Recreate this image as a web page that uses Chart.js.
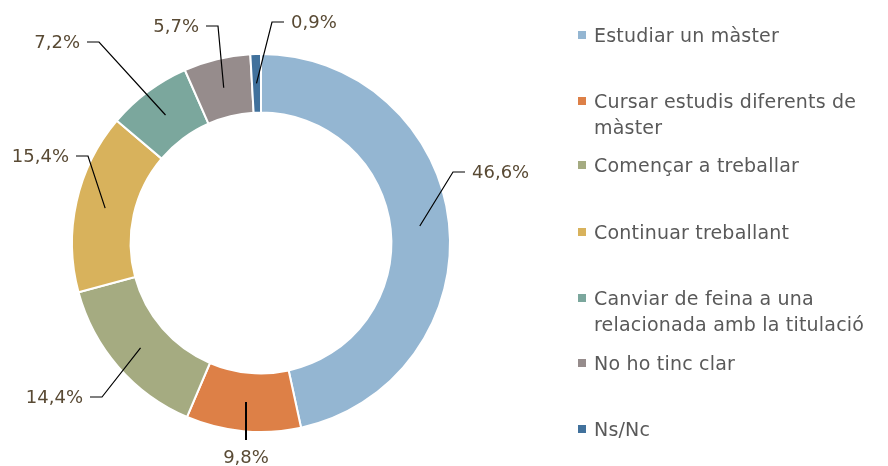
<!DOCTYPE html>
<html>
<head>
<meta charset="utf-8">
<script src="https://cdn.jsdelivr.net/npm/chart.js@4/dist/chart.umd.min.js"></script>
<style>
  html, body { margin: 0; padding: 0; background: #fff; }
  #wrap { position: relative; width: 888px; height: 466px; }
  #grafic { position: absolute; left: 0; top: 0; }
  #llegenda { position: absolute; left: 578px; top: 0; width: 310px;
              font-family: "DejaVu Sans", sans-serif; font-size: 19px; letter-spacing: 0.2px; color: #595959; }
  .item { position: absolute; left: 0; width: 300px; line-height: 26px; padding-left: 16px; }
  .item span.q { position: absolute; left: 0; top: 9px; width: 8px; height: 8px; }
</style>
</head>
<body>
<div id="wrap">
  <canvas id="grafic" width="888" height="466"></canvas>
  <div id="llegenda"></div>
</div>
<script>
var categories = ['Estudiar un màster', 'Cursar estudis diferents de màster', 'Començar a treballar',
                  'Continuar treballant', 'Canviar de feina a una relacionada amb la titulació',
                  'No ho tinc clar', 'Ns/Nc'];
var percentatges = [46.6, 9.8, 14.4, 15.4, 7.2, 5.7, 0.9];
var etiquetes = ['46,6%', '9,8%', '14,4%', '15,4%', '7,2%', '5,7%', '0,9%'];
var colors = ['#94B6D2', '#DD8047', '#A5AB81', '#D8B25C', '#7BA79D', '#968C8C', '#41719C'];

// colze de cada línia guia i costat de l'etiqueta
var guies = [
  {x: 453, y: 172, costat: 'dreta'},
  {x: 246, y: 440, costat: 'sota'},
  {x: 102, y: 397, costat: 'esquerra'},
  {x: 88,  y: 156, costat: 'esquerra'},
  {x: 99,  y: 42,  costat: 'esquerra'},
  {x: 218, y: 26,  costat: 'esquerra'},
  {x: 272, y: 22,  costat: 'dreta'}
];
var topsLlegenda = [22, 88, 152, 219, 285, 350, 416];

// llegenda en html
var llegenda = document.getElementById('llegenda');
categories.forEach(function(c, i){
  var d = document.createElement('div');
  d.className = 'item';
  d.style.top = topsLlegenda[i] + 'px';
  d.innerHTML = '<span class="q" style="background:' + colors[i] + '"></span>' + c;
  llegenda.appendChild(d);
});

var etiquetesPlugin = {
  id: 'etiquetes',
  afterDatasetsDraw: function(chart){
    var ctx = chart.ctx;
    var arcs = chart.getDatasetMeta(0).data;
    ctx.save();
    ctx.font = '18px "DejaVu Sans", sans-serif';
    ctx.fillStyle = '#594A34';
    ctx.strokeStyle = '#000';
    ctx.textBaseline = 'middle';
    arcs.forEach(function(arc, i){
      var mid = (arc.startAngle + arc.endAngle) / 2;
      var r = (arc.innerRadius + arc.outerRadius) / 2;
      var sx = arc.x + Math.cos(mid) * r, sy = arc.y + Math.sin(mid) * r;
      var g = guies[i];
      ctx.beginPath();
      ctx.moveTo(sx, sy);
      ctx.lineTo(g.x, g.y);
      if (g.costat === 'sota') {
        ctx.lineWidth = 2;
        ctx.stroke();
        ctx.textAlign = 'center';
        ctx.fillText(etiquetes[i], g.x, g.y + 18);
      } else if (g.costat === 'dreta') {
        ctx.lineTo(g.x + 12, g.y);
        ctx.lineWidth = 1.2;
        ctx.stroke();
        ctx.textAlign = 'left';
        ctx.fillText(etiquetes[i], g.x + 19, g.y + 1);
      } else {
        ctx.lineTo(g.x - 12, g.y);
        ctx.lineWidth = 1.2;
        ctx.stroke();
        ctx.textAlign = 'right';
        ctx.fillText(etiquetes[i], g.x - 19, g.y + 1);
      }
    });
    ctx.restore();
  }
};

new Chart(document.getElementById('grafic'), {
  type: 'doughnut',
  data: {
    labels: categories,
    datasets: [{
      data: percentatges,
      backgroundColor: colors,
      borderColor: '#ffffff',
      borderWidth: 2
    }]
  },
  options: {
    responsive: false,
    animation: false,
    cutout: '69%',
    layout: { padding: { left: 71, top: 53, right: 437, bottom: 33 } },
    plugins: {
      legend: { display: false },
      tooltip: { enabled: false }
    }
  },
  plugins: [etiquetesPlugin]
});
</script>
</body>
</html>
